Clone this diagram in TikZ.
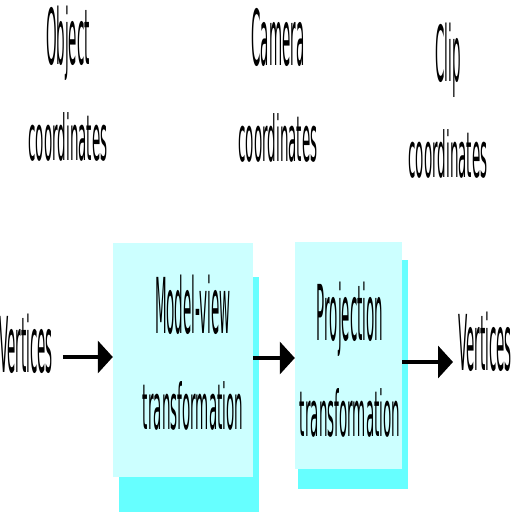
\documentclass[tikz,border=0pt]{standalone}
\usepackage{fontspec}
\setmainfont{DejaVu Sans}
\usetikzlibrary{arrows.meta}
\definecolor{boxcyan}{RGB}{204, 255, 255}
\definecolor{shadecyan}{RGB}{102, 255, 255}

% second lines are set lower than the first ones
\newcommand{\lowline}[1]{\scalebox{1}[0.82]{#1}}

\tikzset{
    lbl/.style={font=\fontsize{77}{96}\selectfont, align=center, inner sep=0pt, xscale=0.175, anchor=base},
    stage/.style={fill=boxcyan, draw=none, inner sep=0pt},
    flow/.style={line width=4.5pt, -{Triangle[length=15pt, width=32pt]}}
}

\begin{document}
\begin{tikzpicture}[x=1pt, y=-1pt]
        \useasboundingbox (0,0) rectangle (512,512);

        % Shadows behind the stages
        \fill[shadecyan] (119,277) rectangle (259,512);
        \fill[shadecyan] (298,260) rectangle (408,489);

        % Stages
        \node[stage, minimum width=140pt, minimum height=234pt] (mv) at (183,360) {};
        \node[stage, minimum width=107pt, minimum height=227pt] (proj) at (348.5,355.5) {};
        \node[lbl] (mvtext) at (193,429) {Model-view\\\lowline{transformation}};
        \node[lbl] (projtext) at (350,436) {Projection\\\lowline{transformation}};

        % Coordinate systems
        \foreach \x/\y/\name/\label in {68/160/obj/Object, 278/161/cam/Camera, 448/177/clip/Clip} {
            \node[lbl] (\name) at (\x,\y) {\label\\\lowline{coordinates}};
        }

        % Vertices in and out
        \node[lbl] (vin) at (26,372) {Vertices};
        \node[lbl] (vout) at (485,370) {Vertices};
        \coordinate (outend) at (453,362);

        \draw[flow] ([xshift=10pt]vin.east |- 0,357) -- (mv.west |- 0,357);
        \draw[flow] (mv.east |- 0,358) -- (proj.west |- 0,358);
        \draw[flow] (proj.east |- outend) -- (outend);
    \end{tikzpicture}
\end{document}
